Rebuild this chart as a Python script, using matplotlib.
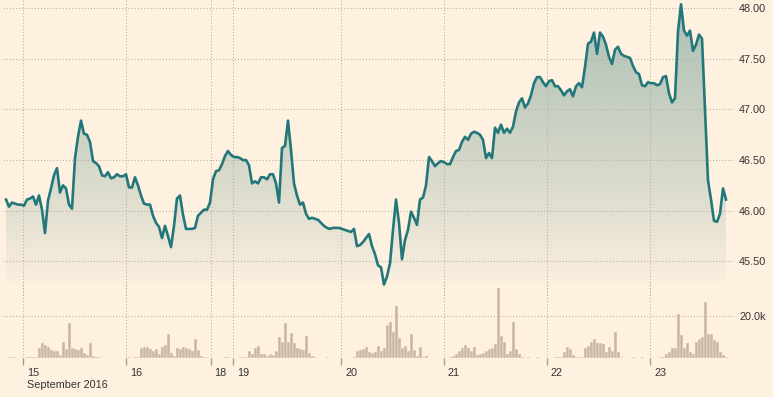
import matplotlib
matplotlib.use("Agg")
import matplotlib.pyplot as plt
import matplotlib.transforms as mtransforms
import numpy as np

# price, one point per sample slot
price = [
    46.11, 46.04, 46.08, 46.07, 46.06, 46.06, 46.05, 46.11, 46.12, 46.14,
    46.06, 46.15, 46.01, 45.78, 46.10, 46.22, 46.35, 46.42, 46.18, 46.25,
    46.22, 46.06, 46.02, 46.52, 46.73, 46.89, 46.76, 46.75, 46.68, 46.49,
    46.47, 46.44, 46.35, 46.34, 46.38, 46.32, 46.33, 46.36, 46.34, 46.34,
    46.36, 46.23, 46.23, 46.33, 46.25, 46.15, 46.07, 46.06, 46.06, 45.95,
    45.88, 45.84, 45.73, 45.85, 45.75, 45.64, 45.85, 46.12, 46.15, 45.96,
    45.82, 45.82, 45.82, 45.83, 45.95, 45.98, 46.01, 46.01, 46.08, 46.31,
    46.39, 46.40, 46.46, 46.54, 46.59, 46.55, 46.53, 46.53, 46.52, 46.50,
    46.50, 46.45, 46.27, 46.29, 46.27, 46.33, 46.33, 46.31, 46.36, 46.36,
    46.27, 46.08, 46.62, 46.64, 46.89, 46.60, 46.27, 46.15, 46.06, 46.08,
    45.97, 45.92, 45.93, 45.92, 45.91, 45.88, 45.85, 45.83, 45.82, 45.83,
    45.83, 45.83, 45.82, 45.81, 45.80, 45.79, 45.82, 45.65, 45.66, 45.69,
    45.73, 45.77, 45.65, 45.57, 45.46, 45.44, 45.27, 45.35, 45.48, 45.81,
    46.11, 45.88, 45.52, 45.71, 45.81, 45.99, 45.93, 45.86, 46.11, 46.13,
    46.25, 46.53, 46.49, 46.44, 46.47, 46.49, 46.48, 46.46, 46.46, 46.53,
    46.59, 46.60, 46.68, 46.73, 46.70, 46.76, 46.78, 46.77, 46.75, 46.70,
    46.52, 46.57, 46.52, 46.82, 46.77, 46.85, 46.77, 46.81, 46.77, 46.83,
    46.98, 47.07, 47.11, 47.02, 47.06, 47.14, 47.26, 47.32, 47.32, 47.27,
    47.23, 47.28, 47.29, 47.23, 47.23, 47.19, 47.14, 47.18, 47.20, 47.13,
    47.23, 47.26, 47.22, 47.42, 47.65, 47.67, 47.76, 47.55, 47.76, 47.72,
    47.64, 47.52, 47.45, 47.59, 47.62, 47.55, 47.53, 47.52, 47.51, 47.43,
    47.37, 47.35, 47.24, 47.23, 47.27, 47.26, 47.26, 47.24, 47.25, 47.32,
    47.33, 47.16, 47.07, 47.11, 47.77, 48.04, 47.78, 47.73, 47.78, 47.58,
    47.64, 47.74, 47.70, 47.00, 46.30, 46.11, 45.90, 45.89, 45.97, 46.22,
    46.11,
]

# volume in thousands, same slots
volume = [
    0.3, 0.5, 0.6, 0.4, 0.3, 0.2, 0.3, 0.5, 0.4, 0.5,
    0.6, 4.8, 7.1, 6.3, 5.2, 4.0, 3.5, 3.5, 1.6, 7.9,
    4.4, 16.7, 5.0, 4.4, 4.1, 4.8, 2.4, 1.6, 7.1, 1.3,
    0.5, 0.4, 0.3, 0.3, 0.3, 0.3, 0.3, 0.2, 0.3, 0.3,
    0.3, 0.4, 0.3, 0.8, 0.8, 4.8, 5.6, 5.2, 4.4, 3.5,
    4.4, 1.9, 5.2, 6.3, 11.4, 2.4, 1.3, 4.8, 4.4, 5.6,
    4.8, 4.4, 3.5, 9.2, 4.0, 1.3, 0.5, 0.4, 0.3, 0.3,
    0.3, 0.3, 0.3, 0.4, 0.6, 0.3, 0.3, 0.3, 0.4, 0.8,
    0.8, 3.5, 1.9, 4.8, 6.0, 1.9, 1.9, 1.3, 1.9, 1.6,
    3.5, 10.3, 7.9, 16.7, 7.6, 11.9, 7.1, 4.8, 4.4, 4.0,
    10.5, 2.4, 1.3, 0.8, 0.3, 0.3, 0.3, 0.8, 0.3, 0.3,
    0.3, 0.3, 0.2, 0.3, 0.3, 0.3, 0.8, 3.5, 4.0, 4.4,
    5.2, 3.2, 2.4, 2.9, 5.9, 3.5, 4.8, 15.9, 17.1, 12.4,
    25.0, 9.5, 5.1, 6.0, 3.5, 11.4, 4.0, 1.3, 5.6, 0.5,
    1.1, 0.3, 0.3, 0.3, 0.3, 0.3, 0.3, 0.3, 0.4, 1.3,
    1.9, 3.5, 4.8, 6.3, 5.1, 3.5, 5.6, 1.6, 1.9, 2.4,
    3.5, 4.4, 5.1, 6.7, 33.3, 10.8, 7.9, 1.9, 3.5, 17.5,
    4.4, 1.9, 0.8, 0.3, 0.4, 0.3, 0.3, 0.6, 0.3, 0.3,
    0.3, 0.3, 0.3, 0.4, 0.8, 0.8, 2.9, 5.6, 4.4, 1.6,
    0.5, 0.8, 0.8, 4.8, 6.0, 7.9, 9.0, 7.5, 7.5, 6.7,
    3.2, 5.2, 3.5, 12.7, 2.9, 0.8, 0.3, 0.3, 0.3, 0.4,
    0.3, 0.3, 0.6, 0.3, 0.3, 0.3, 0.3, 0.3, 0.4, 0.4,
    2.1, 3.2, 4.8, 4.8, 21.1, 11.1, 4.8, 7.1, 3.2, 1.9,
    7.6, 9.2, 10.3, 26.7, 11.4, 11.4, 8.7, 7.6, 3.2, 1.6,
    0.8,
]

# where each day starts, in sample slots
day_tick_pos = [5.7, 40, 68.2, 75.7, 111.7, 146, 180.3, 214.7]
day_tick_labels = ["15\nSeptember 2016", "16", "18", "19", "20", "21", "22", "23"]

price_ticks = [45.5, 46.0, 46.5, 47.0, 47.5, 48.0]
vol_ticks = [20]

BG = "#fff1e0"
LINE = "#22777b"
BAR = "#c8b6a3"
GRID = "#b9ada0"
TXT = "#333333"
FS = 7.8

plt.rcParams["font.family"] = ["Liberation Sans", "DejaVu Sans"]
plt.rcParams["font.size"] = FS

W, H = 773, 397
fig = plt.figure(figsize=(W / 100, H / 100), dpi=100, facecolor=BG)

x = np.arange(len(price))
xlim = (-1, 243)

# price panel (pixel rows 0..295 of the figure)
PH = 295
ax = fig.add_axes([3 / W, 1 - PH / H, 732 / W, PH / H])
ax.set_facecolor("none")
yhi = 48.082
ylo = yhi - PH / 101.2
ax.set_xlim(xlim)
ax.set_ylim(ylo, yhi)

poly = ax.fill_between(x, price, ylo, facecolor="none", edgecolor="none")
rows = np.arange(PH)
alpha = 0.52 * np.clip(1 - rows / 285, 0, 1) ** 0.8
grad = np.zeros((PH, 2, 4))
grad[..., 0] = 95 / 255
grad[..., 1] = 145 / 255
grad[..., 2] = 140 / 255
grad[..., 3] = alpha[:, None]
im = ax.imshow(grad, extent=[x[0], x[-1], ylo, yhi], aspect="auto",
               origin="upper", zorder=1)
im.set_clip_path(poly.get_paths()[0], transform=ax.transData)
ax.set_xlim(xlim)
ax.set_ylim(ylo, yhi)

ax.plot(x, price, color=LINE, lw=1.9, zorder=3, solid_joinstyle="round")

ax.set_yticks(price_ticks)
ax.set_yticklabels([f"{v:.2f}" for v in price_ticks])
ax.set_xticks(day_tick_pos)
ax.tick_params(axis="x", length=0, labelbottom=False)
ax.yaxis.tick_right()
ax.tick_params(axis="y", length=0, pad=3, labelcolor=TXT, labelsize=FS)
ax.grid(True, color=GRID, lw=0.75, ls=(0, (1, 2)), zorder=2)
for s in ax.spines.values():
    s.set_visible(False)

# volume panel
vax = fig.add_axes([3 / W, 1 - 358.3 / H, 732 / W, 78.3 / H])
vax.set_facecolor("none")
vax.bar(x, volume, width=1.0, color=BAR, edgecolor=BG, linewidth=0.3, zorder=2)
vax.set_xlim(xlim)
vax.set_ylim(0, 37.27)
vax.set_yticks(vol_ticks)
vax.set_yticklabels([f"{v:.1f}k" for v in vol_ticks])
vax.yaxis.tick_right()
vax.tick_params(axis="y", length=0, pad=3, labelcolor=TXT, labelsize=FS)
vax.set_xticks(day_tick_pos)
vax.set_xticklabels(day_tick_labels)
vax.tick_params(axis="x", length=5, width=1, color="#a89c90", direction="out",
                pad=2, labelcolor=TXT, labelsize=FS)
offset = mtransforms.ScaledTranslation(4 / 100, 0, fig.dpi_scale_trans)
for lbl in vax.get_xticklabels():
    lbl.set_horizontalalignment("left")
    lbl.set_multialignment("left")
    lbl.set_linespacing(1.3)
    lbl.set_transform(lbl.get_transform() + offset)
vax.grid(True, color=GRID, lw=0.75, ls=(0, (1, 2)), zorder=1)
for s in vax.spines.values():
    s.set_visible(False)

fig.savefig("out.png", dpi=100, facecolor=BG)
